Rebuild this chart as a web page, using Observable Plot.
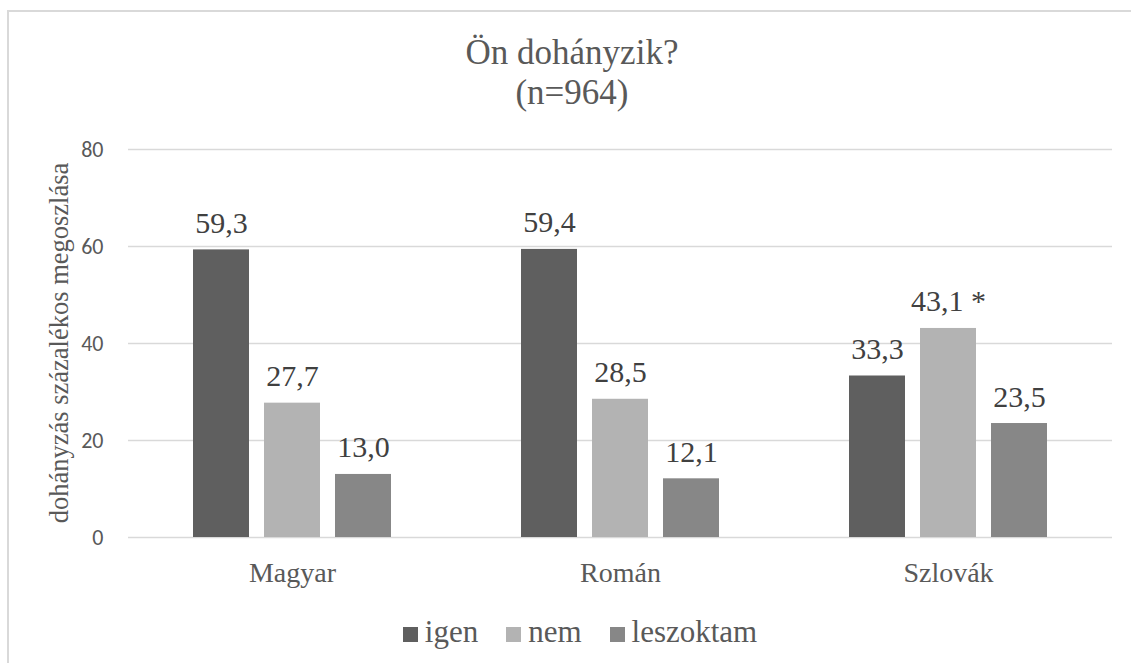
<!DOCTYPE html>
<html><head><meta charset="utf-8">
<script src="https://cdn.jsdelivr.net/npm/d3@7"></script>
<script src="https://cdn.jsdelivr.net/npm/@observablehq/plot@0.6"></script>
<style>
body{margin:0;background:#fff;width:1131px;height:663px;overflow:hidden;position:relative;font-family:"Liberation Serif",serif;}
#frame{position:absolute;left:7px;top:10px;width:1200px;height:700px;border-left:2px solid #d9d9d9;border-top:2px solid #d9d9d9;}
#title{position:absolute;left:0;width:1144px;top:33px;text-align:center;font-size:35px;line-height:40px;color:#595959;}
#chart{position:absolute;left:0;top:120px;}
#legend{position:absolute;left:0;width:1160px;top:614px;display:flex;justify-content:center;font-size:31px;line-height:36px;color:#595959;}
#legend .item{display:flex;align-items:baseline;margin:0 14px;}
#legend .sw{display:inline-block;width:15px;height:15px;margin-right:7px;}
</style></head>
<body>
<div id="frame"></div>
<div id="title">Ön dohányzik?<br>(n=964)</div>
<div id="chart"></div>
<div id="legend"></div>
<script>
const categories = ["Magyar", "Román", "Szlovák"];
const series = ["igen", "nem", "leszoktam"];
const igen = [59.3, 59.4, 33.3];
const nem = [27.7, 28.5, 43.1];
const leszoktam = [13.0, 12.1, 23.5];
const notes = [{category: "Szlovák", series: "nem", note: "*"}];
const colors = ["#5f5f5f", "#b3b3b3", "#878787"];
const yTicks = [0, 20, 40, 60, 80];
const yLabel = "dohányzás százalékos megoszlása";

const SERIF = '"Liberation Serif", serif';
const SANS = 'Carlito, "Open Sans", sans-serif';

const valuesBySeries = {igen, nem, leszoktam};
const data = [];
categories.forEach((c, i) => series.forEach(s => data.push({category: c, series: s, value: valuesBySeries[s][i]})));
const fmt = v => v.toFixed(1).replace(".", ",");
const labelOf = d => {
  const n = notes.find(t => t.category === d.category && t.series === d.series);
  return fmt(d.value) + (n ? " " + n.note : "");
};

const chart = Plot.plot({
  width: 1131, height: 490,
  marginTop: 29, marginBottom: 73, marginLeft: 127, marginRight: 18,
  style: {color: "#595959", background: "transparent", overflow: "visible", fontFamily: SERIF},
  fx: {domain: categories, padding: 0, label: null},
  x: {domain: series, paddingInner: 0.208, paddingOuter: 0.887, axis: null},
  y: {domain: [0, 80]},
  color: {domain: series, range: colors},
  marks: [
    Plot.gridY(yTicks, {stroke: "#d9d9d9", strokeOpacity: 1, strokeWidth: 1.5}),
    Plot.axisY(yTicks, {tickSize: 0, tickPadding: 25, fontSize: 22, fontFamily: SANS, label: null}),
    Plot.axisFx({anchor: "bottom", tickSize: 0, tickPadding: 25, fontSize: 28, fontFamily: SERIF, label: null}),
    Plot.barY(data, {fx: "category", x: "series", y: "value", fill: "series"}),
    Plot.text(data, {fx: "category", x: "series", y: "value", text: labelOf, lineAnchor: "bottom", dy: -17, fontSize: 30, fontFamily: SERIF, fill: "#404040"})
  ]
});
document.getElementById("chart").appendChild(chart);

const svg = d3.select(chart);
// y-axis title
svg.append("text")
  .attr("transform", `translate(60,${(29 + 417) / 2}) rotate(-90)`)
  .attr("text-anchor", "middle")
  .attr("dy", "0.32em")
  .style("font-family", SERIF)
  .style("font-size", "26.5px")
  .attr("fill", "#595959")
  .text(yLabel);

const legend = d3.select("#legend");
series.forEach((s, i) => {
  const it = legend.append("div").attr("class", "item");
  it.append("span").attr("class", "sw").style("background", colors[i]);
  it.append("span").text(s);
});
</script>
</body></html>
